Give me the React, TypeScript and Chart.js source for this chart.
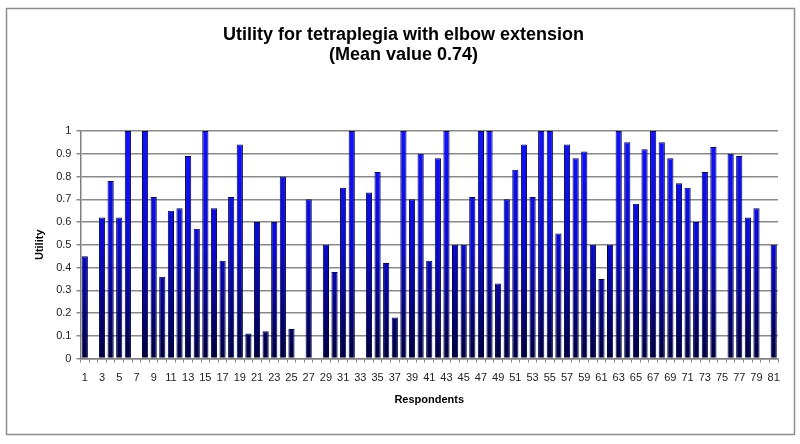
import React, { useEffect, useRef } from "react";
import { Chart, registerables } from "chart.js";

Chart.register(...registerables);

const respondents: string[] = [
  "1","2","3","4","5","6","7","8","9","10",
  "11","12","13","14","15","16","17","18","19","20",
  "21","22","23","24","25","26","27","28","29","30",
  "31","32","33","34","35","36","37","38","39","40",
  "41","42","43","44","45","46","47","48","49","50",
  "51","52","53","54","55","56","57","58","59","60",
  "61","62","63","64","65","66","67","68","69","70",
  "71","72","73","74","75","76","77","78","79","80",
  "81",
];

const utility: (number | null)[] = [
  0.45, null, 0.62, 0.78, 0.62, 1.0, null, 1.0, 0.71, 0.36,
  0.65, 0.66, 0.89, 0.57, 1.0, 0.66, 0.43, 0.71, 0.94, 0.11,
  0.6, 0.12, 0.6, 0.8, 0.13, null, 0.7, null, 0.5, 0.38,
  0.75, 1.0, null, 0.73, 0.82, 0.42, 0.18, 1.0, 0.7, 0.9,
  0.43, 0.88, 1.0, 0.5, 0.5, 0.71, 1.0, 1.0, 0.33, 0.7,
  0.83, 0.94, 0.71, 1.0, 1.0, 0.55, 0.94, 0.88, 0.91, 0.5,
  0.35, 0.5, 1.0, 0.95, 0.68, 0.92, 1.0, 0.95, 0.88, 0.77,
  0.75, 0.6, 0.82, 0.93, null, 0.9, 0.89, 0.62, 0.66, null,
  0.5,
];

const titleLines = ["Utility for tetraplegia with elbow extension", "(Mean value 0.74)"];
const xTitle = "Respondents";
const yTitle = "Utility";

const FONT = "'Liberation Sans', Arial, sans-serif";

const borderPlugin = {
  id: "outerBorder",
  beforeDraw(chart: any) {
    const c = chart.ctx;
    c.save();
    c.fillStyle = "#ffffff";
    c.fillRect(0, 0, chart.width, chart.height);
    c.strokeStyle = "#8c8c8c";
    c.lineWidth = 1.5;
    c.strokeRect(6.5, 8.5, 788, 426);
    c.restore();
  },
};

export default function App() {
  const ref = useRef<HTMLCanvasElement | null>(null);
  useEffect(() => {
    document.body.style.margin = "0";
    if (!ref.current) return;
    const chart = new Chart(ref.current, {
      type: "bar",
      data: {
        labels: respondents,
        datasets: [
          {
            data: utility as any,
            backgroundColor: (ctx: any) => {
              const ch = ctx.chart;
              const area = ch.chartArea;
              if (!area) return "#0000cc";
              const g = ch.ctx.createLinearGradient(0, area.top, 0, area.bottom);
              g.addColorStop(0, "#1212ff");
              g.addColorStop(0.5, "#0a0ad0");
              g.addColorStop(1, "#00003a");
              return g;
            },
            borderColor: "#000050",
            borderWidth: 1,
            barPercentage: 0.72,
            categoryPercentage: 1,
          },
        ],
      },
      options: {
        animation: false,
        responsive: false,
        maintainAspectRatio: false,
        layout: { padding: { left: 29, right: 22, top: 0, bottom: 33 } },
        plugins: {
          legend: { display: false },
          tooltip: { enabled: false },
          title: {
            display: true,
            text: titleLines,
            color: "#000000",
            font: { family: FONT, size: 18, weight: "bold", lineHeight: 1.11 },
            padding: { top: 25, bottom: 66 },
          },
        },
        scales: {
          x: {
            grid: {
              display: true,
              drawOnChartArea: false,
              drawTicks: true,
              tickLength: 4,
              color: "#808080",
              offset: true,
            },
            border: { color: "#808080", width: 1.5 },
            ticks: {
              autoSkip: false,
              maxRotation: 0,
              minRotation: 0,
              color: "#222222",
              font: { family: FONT, size: 11 },
              padding: 9,
              callback: (_v: any, i: number) => (i % 2 === 0 ? respondents[i] : ""),
            },
            title: {
              display: true,
              text: xTitle,
              color: "#000000",
              font: { family: FONT, size: 11, weight: "bold" },
              padding: { top: 0 },
            },
          },
          y: {
            min: 0,
            max: 1,
            grid: {
              color: "#8a8a8a",
              lineWidth: 1.5,
              drawTicks: true,
              tickLength: 4,
            },
            border: { color: "#808080", width: 1.5 },
            ticks: {
              stepSize: 0.1,
              color: "#222222",
              font: { family: FONT, size: 11 },
              padding: 5,
              callback: (v: any) => String(Math.round(Number(v) * 10) / 10),
            },
            title: {
              display: true,
              text: yTitle,
              color: "#000000",
              font: { family: FONT, size: 11, weight: "bold" },
              padding: { bottom: 5 },
            },
          },
        },
      },
      plugins: [borderPlugin],
    });
    return () => chart.destroy();
  }, []);
  return (
    <div style={{ width: 800, height: 444 }}>
      <canvas ref={ref} width={800} height={444} style={{ width: 800, height: 444, display: "block" }} />
    </div>
  );
}
